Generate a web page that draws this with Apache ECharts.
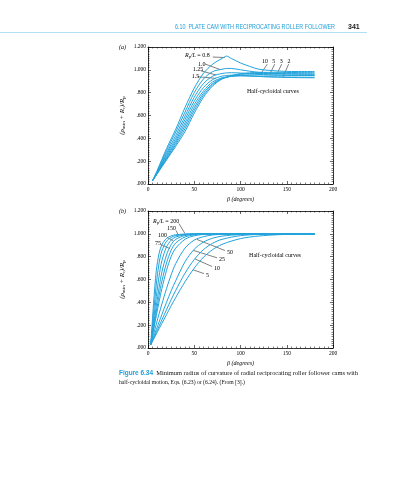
<!DOCTYPE html>
<html><head><meta charset="utf-8">
<script src="https://cdn.jsdelivr.net/npm/echarts/dist/echarts.min.js"></script>
<style>html,body{margin:0;padding:0;background:#fff}#c{width:393px;height:480px}</style>
</head><body><div id="c"></div>
<script>
// ---------- data: chart (a) ----------
const betaA = [5,10,20,30,40,50,60,70,80,85,90,100,110,120,140,160,180];
const rpLA = ['0.8','1.0','1.25','1.5','2','3','5','10'];
const rhoA_08  = [0.03,0.120,0.310,0.480,0.670,0.840,0.970,1.050,1.100,1.120,1.100,1.060,1.030,1.005,0.990,0.985,0.985];
const rhoA_10  = [0.03,0.112,0.290,0.455,0.630,0.800,0.920,0.985,1.005,1.012,1.012,1.000,0.988,0.978,0.967,0.962,0.960];
const rhoA_125 = [0.03,0.105,0.270,0.425,0.595,0.760,0.880,0.945,0.968,0.973,0.975,0.972,0.966,0.960,0.955,0.952,0.950];
const rhoA_15  = [0.03,0.100,0.255,0.400,0.565,0.725,0.845,0.915,0.945,0.950,0.953,0.952,0.947,0.942,0.936,0.932,0.930];
const rhoA_2   = [0.03,0.097,0.240,0.380,0.535,0.695,0.815,0.895,0.930,0.938,0.943,0.946,0.945,0.942,0.938,0.936,0.935];
const rhoA_3   = [0.03,0.094,0.228,0.362,0.510,0.668,0.795,0.880,0.925,0.935,0.943,0.952,0.955,0.955,0.953,0.951,0.950];
const rhoA_5   = [0.03,0.092,0.218,0.346,0.485,0.645,0.778,0.870,0.922,0.935,0.946,0.960,0.966,0.968,0.967,0.966,0.965];
const rhoA_10x = [0.03,0.090,0.210,0.330,0.460,0.620,0.760,0.860,0.920,0.935,0.950,0.966,0.974,0.978,0.978,0.976,0.975];
const seriesA = [rhoA_08,rhoA_10,rhoA_125,rhoA_15,rhoA_2,rhoA_3,rhoA_5,rhoA_10x];

// ---------- data: chart (b) ----------
const betaB = [3,6,9,12,15,20,25,30,40,50,60,70,80,100,120,140,160,180];
const rpLB = ['200','150','100','75','b5','b6','50','25','10','5'];
const rhoB_1  = [0.03,0.390,0.680,0.830,0.905,0.960,0.982,0.992,0.998,1,1,1,1,1,1,1,1,1];
const rhoB_2  = [0.03,0.300,0.560,0.745,0.850,0.935,0.968,0.984,0.996,1,1,1,1,1,1,1,1,1];
const rhoB_3  = [0.03,0.240,0.450,0.630,0.765,0.885,0.945,0.972,0.992,0.998,1,1,1,1,1,1,1,1];
const rhoB_4  = [0.03,0.200,0.370,0.530,0.665,0.815,0.905,0.952,0.985,0.996,1,1,1,1,1,1,1,1];
const rhoB_5  = [0.03,0.175,0.320,0.460,0.585,0.745,0.855,0.920,0.972,0.991,0.998,1,1,1,1,1,1,1];
const rhoB_6  = [0.03,0.157,0.283,0.405,0.520,0.680,0.800,0.875,0.952,0.983,0.995,0.999,1,1,1,1,1,1];
const rhoB_7  = [0.03,0.120,0.210,0.300,0.385,0.520,0.640,0.740,0.875,0.945,0.975,0.990,0.996,1,1,1,1,1];
const rhoB_8  = [0.03,0.096,0.162,0.228,0.293,0.400,0.500,0.590,0.755,0.865,0.928,0.962,0.980,0.994,0.999,1,1,1];
const rhoB_9  = [0.03,0.084,0.138,0.192,0.246,0.335,0.423,0.505,0.655,0.775,0.862,0.918,0.952,0.984,0.995,0.999,1,1];
const rhoB_10 = [0.03,0.076,0.122,0.169,0.215,0.292,0.369,0.443,0.580,0.700,0.795,0.862,0.908,0.958,0.981,0.992,0.997,0.999];
const seriesB = [rhoB_1,rhoB_2,rhoB_3,rhoB_4,rhoB_5,rhoB_6,rhoB_7,rhoB_8,rhoB_9,rhoB_10];

// axis ticks
const xTicks = {min:0, max:200, interval:50};
const yTicks = {min:0, max:1.2, interval:0.2};

// annotations (data coordinates)
const annA = [
  {t:'{i|R}{s|p}{i|/L} = 0.8', at:[40,1.124], line:[[70,1.112],[83,1.108]]},
  {t:'1.0', at:[54,1.051], line:[[61.6,1.051],[77.8,1.003]]},
  {t:'1.25', at:[48.3,1.005], line:[[57,0.992],[73.5,0.955]]},
  {t:'1.5', at:[47.2,0.94], line:[[53.3,0.94],[73.5,0.925]]},
  {t:'10', at:[126.5,1.077], align:'center', line:[[129,1.05],[123,0.979]]},
  {t:'5', at:[136,1.077], align:'center', line:[[137,1.05],[132,0.968]]},
  {t:'3', at:[144,1.077], align:'center', line:[[144.5,1.05],[139,0.956]]},
  {t:'2', at:[152.4,1.077], align:'center', line:[[152,1.05],[146,0.937]]},
  {t:'Half-cycloidal curves', at:[135,0.81], align:'center'}
];
const annB = [
  {t:'{i|R}{s|p}{i|/L} = 200', at:[5.4,1.11], line:[[33.5,1.09],[40,1.002]]},
  {t:'150', at:[20.5,1.044], line:[[30.3,1.03],[32.8,0.99]]},
  {t:'100', at:[10.8,0.985], line:[[20.5,0.968],[27.4,0.94]]},
  {t:'75', at:[7.6,0.92], line:[[14,0.906],[23.8,0.87]]},
  {t:'50', at:[85.4,0.836], line:[[83.2,0.854],[52.6,0.952]]},
  {t:'25', at:[76.8,0.78], line:[[74.6,0.79],[49,0.855]]},
  {t:'10', at:[71.4,0.696], line:[[69.2,0.714],[50.8,0.78]]},
  {t:'5', at:[62.7,0.635], line:[[60.5,0.652],[48.6,0.685]]},
  {t:'Half-cycloidal curves', at:[137.3,0.81], align:'center'}
];

const SERIF = "'Liberation Serif','DejaVu Serif',serif";
const SANS = "'Liberation Sans','DejaVu Sans',sans-serif";
const CYAN = '#1e9fd8';
const LINEC = '#22a3dc';

function yFmt(v){ const s = v.toFixed(3); return s[0]==='0' ? s.slice(1) : s; }

const yName = '{p|(ρ}{s|min}{p| + R}{s|r}{p|)/R}{s|p}';
const yRich = {
  p:{fontFamily:SERIF, fontSize:7, fontStyle:'italic', color:'#000', lineHeight:8},
  s:{fontFamily:SERIF, fontSize:5, color:'#000', lineHeight:5, verticalAlign:'bottom'}
};

function xAx(g, pos){
  const bottom = pos==='bottom';
  return Object.assign({
    gridIndex:g, type:'value', position:pos,
    axisLine:{show:true, onZero:false, lineStyle:{color:'#000', width:0.8}},
    axisTick:{show:true, inside:true, length:3, lineStyle:{color:'#000', width:0.6}},
    minorTick:{show:true, splitNumber:10, length:1.5, lineStyle:{color:'#000', width:0.5}},
    splitLine:{show:false},
    axisLabel:{show:bottom, fontFamily:SERIF, fontSize:5.5, color:'#000', margin:3},
    name: bottom ? 'β (degrees)' : '',
    nameLocation:'middle', nameGap:12,
    nameTextStyle:{fontFamily:SERIF, fontStyle:'italic', fontSize:6, color:'#000'}
  }, xTicks);
}
function yAx(g, pos){
  const left = pos==='left';
  return Object.assign({
    gridIndex:g, type:'value', position:pos,
    axisLine:{show:true, onZero:false, lineStyle:{color:'#000', width:0.8}},
    axisTick:{show:true, inside:true, length:3, lineStyle:{color:'#000', width:0.6}},
    minorTick:{show:true, splitNumber:10, length:1.5, lineStyle:{color:'#000', width:0.5}},
    splitLine:{show:false},
    axisLabel:{show:left, fontFamily:SERIF, fontSize:5.5, color:'#000', margin:2, formatter:yFmt},
    name: left ? yName : '',
    nameLocation:'middle', nameGap:22, nameRotate:90,
    nameTextStyle:{rich:yRich}
  }, yTicks);
}

const series = [];
seriesA.forEach((arr,i)=>{
  series.push({type:'line', name:'a '+rpLA[i], xAxisIndex:0, yAxisIndex:0,
    data: betaA.map((b,j)=>[b,arr[j]]), showSymbol:false, smooth:0.3,
    lineStyle:{color:LINEC, width:1}, silent:true});
});
seriesB.forEach((arr,i)=>{
  series.push({type:'line', name:'b '+rpLB[i], xAxisIndex:2, yAxisIndex:2,
    data: betaB.map((b,j)=>[b,arr[j]]), showSymbol:false, smooth:0.3,
    lineStyle:{color:LINEC, width:1}, silent:true});
});

const chart = echarts.init(document.getElementById('c'), null, {renderer:'canvas'});
chart.setOption({
  animation:false,
  backgroundColor:'#fff',
  grid:[
    {left:148, top:47, width:185, height:137, containLabel:false},
    {left:148, top:211, width:185, height:137, containLabel:false}
  ],
  xAxis:[xAx(0,'bottom'), xAx(0,'top'), xAx(1,'bottom'), xAx(1,'top')],
  yAxis:[yAx(0,'left'), yAx(0,'right'), yAx(1,'left'), yAx(1,'right')],
  series
});

// ---------- text helpers ----------
const mctx = document.createElement('canvas').getContext('2d');
function measure(txt, font){ mctx.font = font; return mctx.measureText(txt).width; }

const annRich = {
  i:{fontFamily:SERIF, fontStyle:'italic', fontSize:6, fill:'#000', lineHeight:7},
  s:{fontFamily:SERIF, fontSize:4.2, fill:'#000', lineHeight:4, verticalAlign:'bottom'}
};

function annElems(list, xi, yi){
  const els = [];
  list.forEach(a=>{
    const p = chart.convertToPixel({xAxisIndex:xi, yAxisIndex:yi}, a.at);
    els.push({type:'text', x:p[0], y:p[1], silent:true, style:{
      text:a.t, rich:annRich, fontFamily:SERIF, fontSize:6, fill:'#000',
      align:a.align||'left', verticalAlign:'middle'}});
    if (a.line){
      const p1 = chart.convertToPixel({xAxisIndex:xi, yAxisIndex:yi}, a.line[0]);
      const p2 = chart.convertToPixel({xAxisIndex:xi, yAxisIndex:yi}, a.line[1]);
      els.push({type:'line', silent:true, shape:{x1:p1[0],y1:p1[1],x2:p2[0],y2:p2[1]},
        style:{stroke:'#000', lineWidth:0.5}});
    }
  });
  return els;
}

// header
const headTxt = '6.10  PLATE CAM WITH RECIPROCATING ROLLER FOLLOWER';
const headFont = '6.5px ' + SANS;
const headScale = 160 / measure(headTxt, headFont);

// caption
const capFont = '7px ' + SERIF;
const capBold = 'bold 7px ' + SANS;
const cap1a = 'Figure 6.34';
const cap1b = '  Minimum radius of curvature of radial reciprocating roller follower cams with';
const cap2 = 'half-cycloidal motion, Eqs. (6.23) or (6.24). (From [3].)';
const cap2Scale = 126 / measure(cap2, capFont);
const cap1Scale = 239 / (measure(cap1a, capBold) + measure(cap1b, capFont));

const graphic = [
  {type:'text', x:175, y:27.5, scaleX:headScale, silent:true,
    style:{text:headTxt, fontFamily:SANS, fontSize:6.5, fill:CYAN, align:'left', verticalAlign:'middle'}},
  {type:'text', x:348, y:27.5, silent:true,
    style:{text:'341', fontFamily:SANS, fontSize:7, fontWeight:'bold', fill:'#222', align:'left', verticalAlign:'middle'}},
  {type:'line', silent:true, shape:{x1:0,y1:32.5,x2:367,y2:32.5}, style:{stroke:'#8fd0ec', lineWidth:0.7}},
  {type:'text', x:119, y:47.5, silent:true,
    style:{text:'(a)', fontFamily:SERIF, fontStyle:'italic', fontSize:6, fill:'#000', align:'left', verticalAlign:'middle'}},
  {type:'text', x:119, y:211.5, silent:true,
    style:{text:'(b)', fontFamily:SERIF, fontStyle:'italic', fontSize:6, fill:'#000', align:'left', verticalAlign:'middle'}},
  {type:'text', x:119, y:373.5, scaleX:cap1Scale, silent:true,
    style:{text:'{f|'+cap1a+'}{n|'+cap1b+'}', align:'left', verticalAlign:'middle',
      rich:{f:{fontFamily:SANS, fontWeight:'bold', fontSize:7, fill:CYAN}, n:{fontFamily:SERIF, fontSize:7, fill:'#111'}}}},
  {type:'text', x:119, y:382.5, scaleX:cap2Scale, silent:true,
    style:{text:cap2, fontFamily:SERIF, fontSize:7, fill:'#111', align:'left', verticalAlign:'middle'}}
].concat(annElems(annA,0,0), annElems(annB,2,2));

chart.setOption({graphic});
</script>
</body></html>
